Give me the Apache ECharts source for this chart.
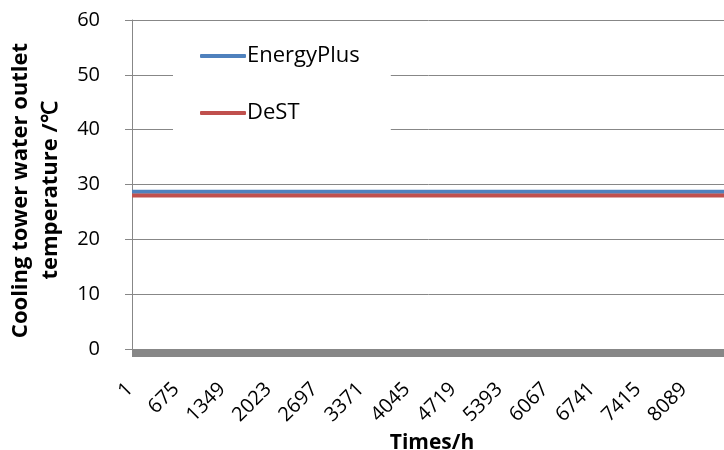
<!DOCTYPE html>
<html>
<head>
<meta charset="utf-8">
<script src="https://cdn.jsdelivr.net/npm/echarts@6/dist/echarts.min.js"></script>
<style>html,body{margin:0;padding:0;background:#fff;}#c{width:724px;height:450px;}</style>
</head>
<body>
<div id="c"></div>
<script>
// Hour index of the year (categories)
const HOURS_IN_YEAR = 8760;
const hours = Array.from({length: HOURS_IN_YEAR}, (_, i) => String(i + 1));
// Series values: constant lines, given at first and last hour
const energyPlusPoints = [[0, 28.7], [8759, 28.7]];
const destPoints = [[0, 28.0], [8759, 28.0]];
const seriesNames = ['EnergyPlus', 'DeST'];
const yTicks = {min: 0, max: 60, interval: 10};

const font = '"Open Sans", Lato, sans-serif';
const chart = echarts.init(document.getElementById('c'), null, {renderer: 'canvas'});
chart.setOption({
  animation: false,
  backgroundColor: '#fff',
  grid: {left: 132, top: 20, bottom: 101, right: -8, containLabel: false, outerBoundsMode: 'none'},
  legend: {
    orient: 'vertical', left: 173, top: 37,
    backgroundColor: '#fff',
    padding: [8, 31, 14, 27],
    itemGap: 35,
    itemWidth: 46, itemHeight: 4,
    icon: 'roundRect',
    textStyle: {fontFamily: font, fontSize: 22, color: '#000', padding: [0, 0, 0, -4]},
    data: seriesNames
  },
  xAxis: {
    type: 'category',
    data: hours,
    boundaryGap: true,
    name: 'Times/h',
    nameLocation: 'middle',
    nameGap: 73,
    nameTextStyle: {fontFamily: font, fontSize: 21, fontWeight: 'bold', color: '#000'},
    axisLine: {show: true, onZero: false, lineStyle: {color: '#878787', width: 8, cap: 'butt'}},
    offset: 4,
    axisTick: {show: false},
    axisLabel: {interval: 673, rotate: 45, margin: 31, padding: [0, 3, 0, 0], fontFamily: font, fontSize: 20, color: '#000', hideOverlap: false},
    splitLine: {show: false}
  },
  yAxis: {
    type: 'value',
    min: yTicks.min, max: yTicks.max, interval: yTicks.interval,
    name: 'Cooling tower water outlet\ntemperature /℃',
    nameLocation: 'middle',
    nameGap: 59,
    nameTextStyle: {fontFamily: font, fontSize: 22, fontWeight: 'bold', color: '#000', lineHeight: 30, padding: [0, 12, 0, 0]},
    axisLine: {show: true, lineStyle: {color: '#878787', width: 1}},
    axisTick: {show: true, inside: false, length: 7, lineStyle: {color: '#878787'}},
    axisLabel: {margin: 32, fontFamily: font, fontSize: 20, color: '#000'},
    splitLine: {show: true, lineStyle: {color: '#878787', width: 1}}
  },
  series: [
    {name: seriesNames[0], type: 'line', data: energyPlusPoints, showSymbol: false,
     lineStyle: {color: '#4F81BD', width: 4}, itemStyle: {color: '#4F81BD'}},
    {name: seriesNames[1], type: 'line', data: destPoints, showSymbol: false,
     lineStyle: {color: '#C0504D', width: 4}, itemStyle: {color: '#C0504D'}}
  ]
});
</script>
</body>
</html>
